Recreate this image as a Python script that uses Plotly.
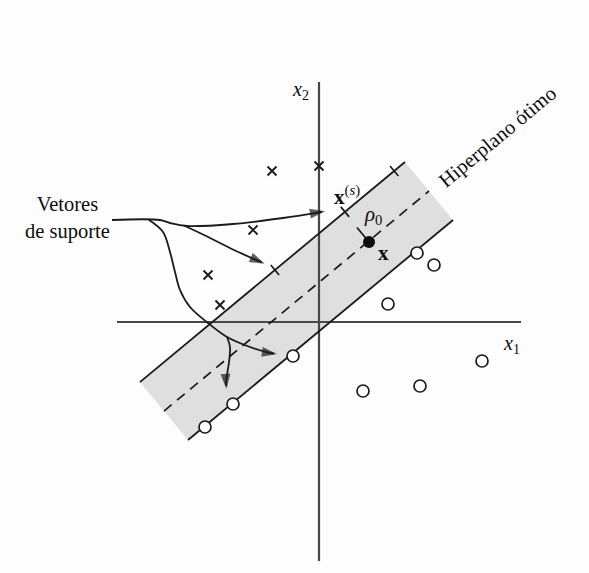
import numpy as np
import plotly.graph_objects as go

# ---- data (x1, x2 coordinates) ----
cross_x1 = [-0.94, 0.00, -1.32, -2.22, -1.98]
cross_x2 = [3.02, 3.12, 1.84, 0.94, 0.34]

circle_x1 = [1.96, 2.30, 1.38, -0.52, -1.72, -2.28, 0.88, 2.02, 3.26]
circle_x2 = [1.38, 1.14, 0.36, -0.68, -1.64, -2.10, -1.38, -1.28, -0.78]

test_x1 = [1.00]
test_x2 = [1.60]

# optimal hyperplane: direction angle, x2-intercept, half margin rho0
hyper_angle_deg = 39.7
hyper_intercept = 0.793
rho0 = 0.753
band_t = [-4.03, 2.86]           # extent of the drawn band along the hyperplane
sv_upper_t = [-0.52, 1.30, 2.58]  # support vectors on the upper margin line

# coordinate axes
x1_axis = [-4.04, 4.04]
x2_axis = [-4.78, 4.80]

# "Vetores de suporte" pointer curves
curve_top_x1 = [-4.14, -3.18, -2.98, -2.64, -1.72, -0.72, 0.28]
curve_top_x2 = [2.04, 2.04, 1.98, 1.92, 1.96, 2.08, 2.24]

curve_mid_x1 = [-2.70, -2.30, -1.70, -0.94]
curve_mid_x2 = [1.93, 1.74, 1.44, 1.10]

curve_low_x1 = [-3.40, -3.12, -2.98, -2.88, -2.78, -2.58, -2.22, -1.84, -1.38, -0.98, -0.68]
curve_low_x2 = [2.04, 1.80, 1.40, 1.00, 0.64, 0.30, -0.02, -0.30, -0.50, -0.62, -0.66]

curve_branch_x1 = [-1.84, -1.78, -1.80, -1.86, -1.84]
curve_branch_x2 = [-0.30, -0.50, -0.80, -1.20, -1.50]

# ---- geometry helpers ----
theta = np.radians(hyper_angle_deg)
u = np.array([np.cos(theta), np.sin(theta)])      # along hyperplane
n = np.array([-np.sin(theta), np.cos(theta)])     # unit normal
c0 = np.array([0.0, hyper_intercept])


def on_band(t, s):
    return c0 + t * u + s * n


INK = "#1a1a1a"
SERIF = "Liberation Serif, Times New Roman, serif"
PX = 1 / 50  # data units per pixel

fig = go.Figure()

# shaded margin band
corners = [on_band(band_t[0], rho0), on_band(band_t[1], rho0),
           on_band(band_t[1], -rho0), on_band(band_t[0], -rho0)]
fig.add_trace(go.Scatter(
    x=[c[0] for c in corners], y=[c[1] for c in corners],
    fill="toself", fillcolor="#dfdfdf", mode="none", hoverinfo="skip"))

# axes
fig.add_trace(go.Scatter(x=x1_axis, y=[0, 0], mode="lines",
                         line=dict(color="#474747", width=2.2), hoverinfo="skip"))
fig.add_trace(go.Scatter(x=[0, 0], y=x2_axis, mode="lines",
                         line=dict(color="#474747", width=2.2), hoverinfo="skip"))

# margin lines
for s in (rho0, -rho0):
    a, b = on_band(band_t[0], s), on_band(band_t[1], s)
    fig.add_trace(go.Scatter(x=[a[0], b[0]], y=[a[1], b[1]], mode="lines",
                             line=dict(color=INK, width=1.8), hoverinfo="skip"))

# optimal hyperplane (dashed)
a, b = on_band(band_t[0], 0), on_band(band_t[1], 0)
fig.add_trace(go.Scatter(x=[a[0], b[0]], y=[a[1], b[1]], mode="lines",
                         line=dict(color=INK, width=1.7, dash="10px,7px"),
                         hoverinfo="skip"))

# support-vector ticks on the upper margin
tx, ty = [], []
for t in sv_upper_t:
    p = on_band(t, rho0)
    p1, p2 = p - 0.13 * n, p + 0.13 * n
    tx += [p1[0], p2[0], None]
    ty += [p1[1], p2[1], None]
fig.add_trace(go.Scatter(x=tx, y=ty, mode="lines",
                         line=dict(color=INK, width=1.7), hoverinfo="skip"))

# distance rho0 from x towards the margin
p0 = np.array([test_x1[0], test_x2[0]])
p1 = p0 + 0.5 * rho0 * n
fig.add_trace(go.Scatter(x=[p0[0], p1[0]], y=[p0[1], p1[1]], mode="lines",
                         line=dict(color=INK, width=1.8), hoverinfo="skip"))

# pointer curves with arrowheads at their ends
curves = [(curve_top_x1, curve_top_x2), (curve_mid_x1, curve_mid_x2),
          (curve_low_x1, curve_low_x2), (curve_branch_x1, curve_branch_x2)]
head_px = 16
for cx, cy in curves:
    tip = np.array([cx[-1], cy[-1]])
    prev = np.array([cx[-2], cy[-2]])
    d = (tip - prev) / np.linalg.norm(tip - prev)
    end = tip - d * head_px * 0.7 * PX
    fig.add_trace(go.Scatter(x=list(cx[:-1]) + [end[0]], y=list(cy[:-1]) + [end[1]],
                             mode="lines",
                             line=dict(color=INK, width=1.8, shape="spline",
                                       smoothing=1.0),
                             hoverinfo="skip"))
    centre = tip - d * head_px * 0.5 * PX
    back = centre - d * 0.2
    fig.add_trace(go.Scatter(x=[back[0], centre[0]], y=[back[1], centre[1]],
                             mode="markers",
                             marker=dict(symbol="arrow", size=[0, head_px],
                                         angleref="previous", color=INK,
                                         line=dict(width=0)),
                             hoverinfo="skip"))

# class samples
fig.add_trace(go.Scatter(x=cross_x1, y=cross_x2, mode="markers",
                         marker=dict(symbol="x-thin", size=9,
                                     line=dict(color=INK, width=1.9)),
                         hoverinfo="skip"))
fig.add_trace(go.Scatter(x=circle_x1, y=circle_x2, mode="markers",
                         marker=dict(symbol="circle", size=12, color="white",
                                     line=dict(color=INK, width=1.7)),
                         hoverinfo="skip"))
fig.add_trace(go.Scatter(x=test_x1, y=test_x2, mode="markers",
                         marker=dict(symbol="circle", size=12, color="#0d0d0d"),
                         hoverinfo="skip"))

labels = [
    (-5.04, 2.08, "Vetores<br>de suporte", 0, 20.5),
    (3.56, 3.70, "Hiperplano ótimo", -hyper_angle_deg, 20.5),
    (-0.38, 4.64, "<i>x</i><sub>2</sub>", 0, 20),
    (3.84, -0.44, "<i>x</i><sub>1</sub>", 0, 20),
    (0.56, 2.53, "<b>x</b><sup>(<i>s</i>)</sup>", 0, 21),
    (1.07, 2.14, "<i>ρ</i><sub>0</sub>", 0, 21),
    (1.28, 1.38, "<b>x</b>", 0, 21),
]
annotations = []
for lx, ly, txt, ang, sz in labels:
    annotations.append(dict(x=lx, y=ly, xref="x", yref="y", text=txt,
                            showarrow=False, textangle=ang, align="center",
                            font=dict(family=SERIF, size=sz, color="#0d0d0d")))

fig.update_layout(
    width=589, height=573,
    margin=dict(l=0, r=0, t=0, b=0),
    paper_bgcolor="#fdfdfd", plot_bgcolor="#fdfdfd",
    showlegend=False,
    xaxis=dict(range=[-319 / 50, (589 - 319) / 50], visible=False, fixedrange=True),
    yaxis=dict(range=[(322 - 573) / 50, 322 / 50], visible=False, fixedrange=True),
    annotations=annotations,
)

fig.write_html("out.html")
